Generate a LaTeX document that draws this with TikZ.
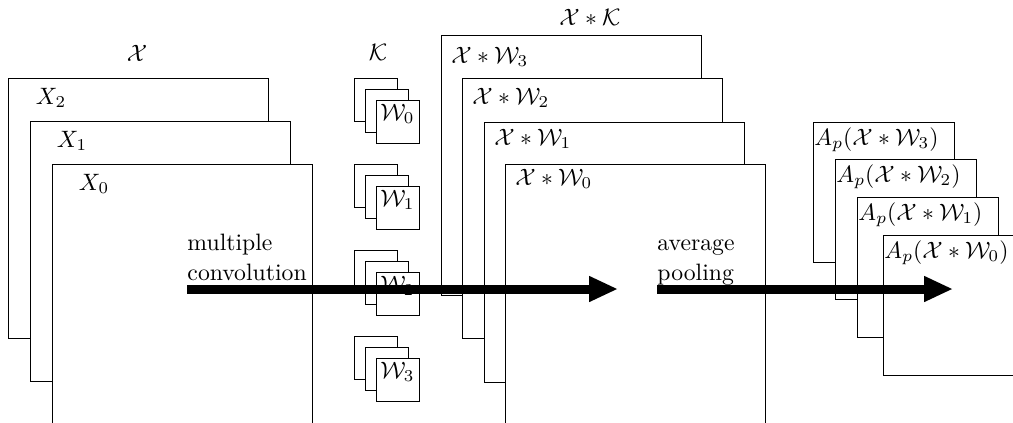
\documentclass[tikz,border=0pt]{standalone}
\usetikzlibrary{arrows.meta}
\tikzset{
  sheet/.style={draw, fill=white, line width=0.4pt},
  flow/.style={line width=3.8pt, -{Triangle[length=12.2pt,width=10.1pt]}},
  tag/.style={inner sep=0pt},
  steplabel/.style={inner sep=0pt, anchor=north west, align=left,
    font=\fontsize{10}{13}\selectfont},
}
\begin{document}
\begin{tikzpicture}[x=0.4219pt, y=-0.4219pt]
\useasboundingbox (0,0) rectangle (1013,422);
\clip (0,0) rectangle (1013,422);

% input channels X_2, X_1, X_0 (back to front)
\foreach \x/\y/\i in {8/78/2, 30/121/1, 52/164/0}
  \draw[sheet] (\x,\y) rectangle ++(260,260);
\node[tag] (x2) at (51,98)  {$X_2$};
\node[tag] (x1) at (72,141) {$X_1$};
\node[tag] (x0) at (94,184) {$X_0$};
\node[tag] (xset) at (137,53) {$\mathcal{X}$};

% kernel stacks W_0 ... W_3
\foreach \t/\i in {78/0, 164/1, 250/2, 336/3} {
  \draw[sheet] (354,\t) rectangle ++(43,43);
  \draw[sheet] (365,\t+11) rectangle ++(43,43);
  \draw[sheet] (376,\t+22) rectangle ++(43,43);
  \node[tag] (w\i) at (397.5,\t+36) {$\mathcal{W}_\i$};
}
\node[tag] (kset) at (378,52) {$\mathcal{K}$};

% convolution outputs
\foreach \x/\y in {441/35, 462/78, 484/122, 505/164}
  \draw[sheet] (\x,\y) rectangle ++(260,260);
\node[tag, anchor=west] (c3) at (451,57)  {$\mathcal{X}*\mathcal{W}_3$};
\node[tag, anchor=west] (c2) at (472,98)  {$\mathcal{X}*\mathcal{W}_2$};
\node[tag, anchor=west] (c1) at (494,139) {$\mathcal{X}*\mathcal{W}_1$};
\node[tag, anchor=west] (c0) at (515,179) {$\mathcal{X}*\mathcal{W}_0$};
\node[tag] (cset) at (590,17) {$\mathcal{X}*\mathcal{K}$};

% pooled outputs
\foreach \x/\y/\i in {813/122/3, 835/159/2, 857/197/1, 883/235/0} {
  \draw[sheet] (\x,\y) rectangle ++(141,140);
  \node[tag, anchor=base west] (p\i) at (\x+1,\y+23) {$A_p(\mathcal{X}*\mathcal{W}_\i)$};
}

% processing steps
\node[steplabel] (convtxt) at (187,228) {\strut multiple\\\strut convolution};
\node[steplabel] (pooltxt) at (657,228) {\strut average\\\strut pooling};

\coordinate (convS) at (187,289);
\coordinate (convE) at (618,289);
\coordinate (poolS) at (657,289);
\coordinate (poolE) at (953,289);
\draw[flow] (convS) -- (convE);
\draw[flow] (poolS) -- (poolE);
\end{tikzpicture}
\end{document}
